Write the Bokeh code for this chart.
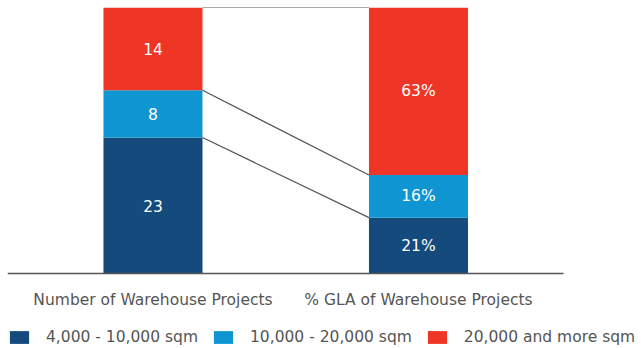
from bokeh.plotting import figure
from bokeh.models import ColumnDataSource, Range1d, LinearAxis, FixedTicker, Legend, LegendItem
from bokeh.core.properties import value
from bokeh.embed import file_html
from bokeh.resources import INLINE

# ---- data ----
bar_labels = ["Number of Warehouse Projects", "% GLA of Warehouse Projects"]
series = ["4,000 - 10,000 sqm", "10,000 - 20,000 sqm", "20,000 and more sqm"]
colors = ["#154a7c", "#0f96d2", "#ef3526"]
num_projects = [23, 8, 14]
gla_pct = [21, 16, 63]

FONT = "DejaVu Sans"

p = figure(frame_width=634, frame_height=341, output_backend="svg", toolbar_location=None,
           x_axis_type=None, y_axis_type=None,
           x_range=Range1d(-0.548, 1.840), y_range=Range1d(-28.2, 100),
           min_border_left=7, min_border_right=0, min_border_top=7, min_border_bottom=0)
p.outline_line_color = None
p.grid.visible = False
p.background_fill_color = "white"
p.border_fill_color = "white"

bw = 0.373
tot = sum(num_projects)
left_pct = [v / tot * 100 for v in num_projects]
stacks = [left_pct, gla_pct]
texts = [[str(v) for v in num_projects], [f"{v}%" for v in gla_pct]]

renderers = []
for si in range(3):
    xs, bottoms, tops, labs, mids = [], [], [], [], []
    for bi in range(2):
        b = sum(stacks[bi][:si])
        t = b + stacks[bi][si]
        xs.append(bi); bottoms.append(b); tops.append(t)
        labs.append(texts[bi][si]); mids.append((b + t) / 2)
    src = ColumnDataSource(dict(x=xs, bottom=bottoms, top=tops, lab=labs, mid=mids))
    r = p.vbar(x="x", width=bw, bottom="bottom", top="top", source=src,
               fill_color=colors[si], line_color=None)
    renderers.append(r)
    p.text(x="x", y="mid", text="lab", source=src, text_color="white",
           text_font=value(FONT), text_font_size="15.5px",
           text_align="center", text_baseline="middle")

# connector lines
for si in range(3):
    y0 = sum(stacks[0][:si + 1])
    y1 = sum(stacks[1][:si + 1])
    p.line(x=[0 + bw / 2, 1 - bw / 2], y=[y0, y1], line_color="#555555", line_width=1.2)

ax = LinearAxis(ticker=FixedTicker(ticks=[0, 1]), fixed_location=0, bounds=(-0.548, 1.546),
                major_label_overrides={0: bar_labels[0], 1: bar_labels[1]})
ax.axis_line_color = "#555555"
ax.axis_line_width = 1.5
ax.major_tick_line_color = None
ax.minor_tick_line_color = None
ax.major_label_standoff = 12
ax.major_label_text_font = FONT
ax.major_label_text_font_size = "15.5px"
ax.major_label_text_color = "#555555"
p.add_layout(ax, "below")

legend = Legend(items=[LegendItem(label=series[i], renderers=[renderers[i]]) for i in range(3)],
                orientation="horizontal", location=(0, 2),
                label_text_font=FONT, label_text_font_size="15.5px", label_text_color="#555555",
                glyph_width=24, glyph_height=16, label_standoff=15, spacing=13,
                padding=0, margin=0, border_line_color=None, background_fill_alpha=0,
                label_height=16)
p.add_layout(legend)

open("out.html", "w").write(file_html(p, INLINE))
